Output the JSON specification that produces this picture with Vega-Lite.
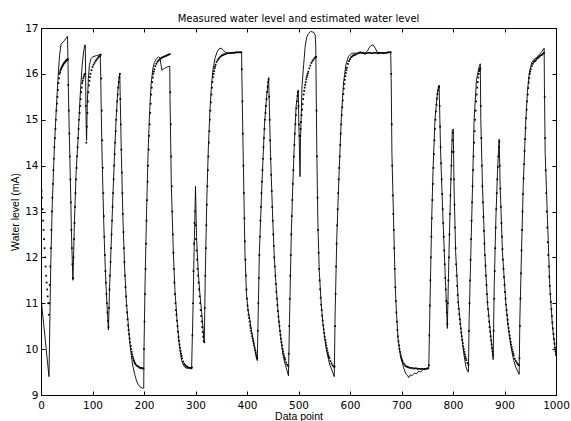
{
"$schema": "https://vega.github.io/schema/vega-lite/v6.json",
"autosize": {"type": "none"},
"padding": {"left": 41, "right": 15, "top": 28, "bottom": 26},
"width": 515,
"height": 367,
"background": "white",
"title": {"text": "Measured water level and estimated water level", "font": "DejaVu Sans", "fontSize": 10, "fontWeight": "normal", "color": "black", "baseline": "alphabetic", "offset": -9, "anchor": "middle"},
"config": {
  "view": {"stroke": null},
  "axis": {"grid": false, "domainColor": "black", "domainWidth": 1, "tickColor": "black", "tickWidth": 1, "labelColor": "black", "titleColor": "black", "labelFont": "DejaVu Sans", "labelFontSize": 10.5, "titleFont": "Liberation Sans", "titleFontSize": 10.5, "titleFontWeight": "normal"}
},
"datasets": {
"measured": [
{"x":0,"y":11.2},{"x":2,"y":10.9},{"x":15.5,"y":9.4},{"x":19,"y":11.9},{"x":22,"y":13.2},{"x":26,"y":14.4},{"x":30,"y":15.3},{"x":33,"y":15.9},{"x":36,"y":16.4},{"x":39,"y":16.65},{"x":45,"y":16.72},{"x":50,"y":16.8},{"x":51.5,"y":16.82},{"x":52.5,"y":16.2},{"x":53,"y":15.76},{"x":54,"y":15.2},{"x":55,"y":14.7},{"x":56,"y":14.2},{"x":57,"y":13.7},{"x":58,"y":13.2},{"x":59,"y":12.6},{"x":60,"y":12.2},{"x":61,"y":11.85},{"x":62,"y":11.5},
{"x":65,"y":12.8},{"x":68,"y":13.8},{"x":72,"y":14.6},{"x":75,"y":15.3},{"x":77,"y":15.7},{"x":80,"y":16.2},{"x":83,"y":16.5},{"x":85,"y":16.63},{"x":86,"y":16.63},{"x":87.5,"y":15.0},{"x":88.5,"y":14.55},{"x":90,"y":15.4},{"x":92,"y":15.9},{"x":94,"y":16.2},{"x":97,"y":16.33},{"x":100,"y":16.37},{"x":108,"y":16.4},{"x":115,"y":16.42},
{"x":116,"y":15.95},{"x":117,"y":15.2},{"x":118,"y":14.5},{"x":120,"y":13.55},{"x":122,"y":12.7},{"x":124,"y":12.0},{"x":126,"y":11.45},{"x":128,"y":11.0},{"x":130,"y":10.6},{"x":131,"y":10.42},{"x":133,"y":11.3},{"x":137,"y":12.5},{"x":140,"y":13.45},{"x":143,"y":14.3},{"x":146,"y":15.05},{"x":149,"y":15.6},{"x":151,"y":15.85},{"x":153,"y":16.02},
{"x":154,"y":15.4},{"x":156,"y":14.27},{"x":159,"y":12.9},{"x":162.5,"y":11.73},{"x":166,"y":11.0},{"x":169,"y":10.6},{"x":172,"y":10.2},{"x":175,"y":9.9},{"x":178,"y":9.65},{"x":182,"y":9.45},{"x":185,"y":9.33},{"x":188,"y":9.24},{"x":192,"y":9.18},{"x":197,"y":9.15},{"x":199.5,"y":9.15},
{"x":200,"y":10.0},{"x":202,"y":11.4},{"x":205,"y":13.0},{"x":208,"y":14.3},{"x":211,"y":15.2},{"x":214,"y":15.8},{"x":217,"y":16.1},{"x":220,"y":16.25},{"x":224,"y":16.33},{"x":228,"y":16.37},{"x":231,"y":16.35},{"x":233,"y":16.2},{"x":235,"y":16.08},{"x":240,"y":16.12},{"x":245,"y":16.15},{"x":250,"y":16.17},
{"x":250.5,"y":15.5},{"x":253,"y":13.6},{"x":257,"y":12.1},{"x":260,"y":11.3},{"x":264,"y":10.65},{"x":268,"y":10.15},{"x":273,"y":9.75},{"x":278,"y":9.62},{"x":283,"y":9.58},{"x":288,"y":9.6},{"x":292.5,"y":9.6},
{"x":295,"y":10.8},{"x":297,"y":12.0},{"x":299,"y":13.0},{"x":300,"y":13.55},{"x":302,"y":12.45},{"x":305,"y":11.75},{"x":308.5,"y":11.2},{"x":312,"y":10.8},{"x":315,"y":10.4},{"x":317,"y":10.15},
{"x":319,"y":11.6},{"x":322,"y":13.3},{"x":325,"y":14.4},{"x":328,"y":15.2},{"x":331,"y":15.75},{"x":334,"y":16.1},{"x":338,"y":16.35},{"x":342,"y":16.48},{"x":346,"y":16.55},{"x":350,"y":16.56},{"x":354,"y":16.52},{"x":358,"y":16.47},{"x":362,"y":16.45},{"x":375,"y":16.46},{"x":389.5,"y":16.47},
{"x":390,"y":16.0},{"x":392,"y":14.6},{"x":393.7,"y":13.54},{"x":396,"y":12.1},{"x":399,"y":11.2},{"x":402,"y":10.85},{"x":405.5,"y":10.64},{"x":409,"y":10.38},{"x":412,"y":10.2},{"x":415,"y":10.0},{"x":418.5,"y":9.8},{"x":420,"y":9.75},
{"x":424,"y":12.1},{"x":429,"y":13.6},{"x":434,"y":14.9},{"x":438,"y":15.5},{"x":442,"y":15.92},{"x":445.6,"y":14.27},{"x":450,"y":12.82},{"x":453,"y":12.0},{"x":456.6,"y":11.36},{"x":460,"y":10.85},{"x":463,"y":10.5},{"x":466,"y":10.2},{"x":469.5,"y":9.9},{"x":473,"y":9.72},{"x":476,"y":9.6},{"x":480.5,"y":9.42},
{"x":482.5,"y":10.6},{"x":486,"y":12.5},{"x":489,"y":13.6},{"x":492,"y":14.5},{"x":495.4,"y":15.3},{"x":499.5,"y":15.65},{"x":500.5,"y":15.0},{"x":503,"y":13.76},{"x":504,"y":14.6},{"x":506.8,"y":15.72},{"x":510,"y":16.2},{"x":513,"y":16.6},{"x":516,"y":16.8},{"x":519.4,"y":16.88},{"x":523,"y":16.92},{"x":526,"y":16.92},{"x":530,"y":16.9},{"x":532.4,"y":16.85},{"x":533.5,"y":16.6},
{"x":535.6,"y":14.27},{"x":537.5,"y":12.82},{"x":540.2,"y":11.73},{"x":544,"y":11.0},{"x":547,"y":10.6},{"x":550.5,"y":10.27},{"x":554,"y":10.0},{"x":558.3,"y":9.77},{"x":561,"y":9.65},{"x":564.7,"y":9.55},{"x":569.5,"y":9.4},
{"x":571,"y":10.7},{"x":574.4,"y":12.45},{"x":579,"y":13.9},{"x":583,"y":15.0},{"x":587.4,"y":15.8},{"x":592,"y":16.2},{"x":597,"y":16.38},{"x":603,"y":16.45},{"x":615,"y":16.45},{"x":630,"y":16.46},{"x":634,"y":16.5},{"x":638,"y":16.58},{"x":641,"y":16.62},{"x":645,"y":16.63},{"x":649,"y":16.56},{"x":653,"y":16.47},{"x":660,"y":16.46},{"x":670,"y":16.46},{"x":679,"y":16.48},
{"x":680,"y":15.9},{"x":681.4,"y":14.27},{"x":684.6,"y":12.82},{"x":687.9,"y":11.36},{"x":690,"y":10.85},{"x":693,"y":10.27},{"x":696,"y":10.0},{"x":699.5,"y":9.8},{"x":704,"y":9.6},{"x":708,"y":9.47},{"x":712,"y":9.42},{"x":714,"y":9.38},{"x":717,"y":9.44},{"x":720,"y":9.42},{"x":723,"y":9.45},{"x":726,"y":9.48},{"x":729,"y":9.46},{"x":733,"y":9.52},{"x":737,"y":9.5},{"x":741,"y":9.55},{"x":745,"y":9.56},{"x":750,"y":9.57},{"x":753,"y":9.6},
{"x":754.7,"y":10.64},{"x":756.7,"y":11.73},{"x":758.6,"y":12.82},{"x":761.2,"y":13.9},{"x":765,"y":15.0},{"x":769.6,"y":15.58},{"x":773,"y":15.75},{"x":776,"y":14.27},{"x":780.6,"y":12.82},{"x":785.8,"y":11.36},{"x":789,"y":10.45},
{"x":792.2,"y":12.09},{"x":795.5,"y":13.54},{"x":798.7,"y":14.78},{"x":800.5,"y":14.8},{"x":802,"y":13.54},{"x":805.2,"y":12.1},{"x":810.4,"y":11.0},{"x":817,"y":10.27},{"x":821,"y":9.9},{"x":825,"y":9.62},{"x":828,"y":9.52},{"x":830,"y":9.5},
{"x":831.3,"y":10.64},{"x":834.6,"y":12.09},{"x":837.9,"y":13.54},{"x":841,"y":15.0},{"x":845.6,"y":15.87},{"x":850.8,"y":16.16},{"x":853,"y":16.22},{"x":854,"y":15.0},{"x":857.3,"y":13.54},{"x":861.8,"y":12.1},{"x":867,"y":11.0},{"x":873.5,"y":10.27},{"x":878,"y":9.77},
{"x":880,"y":11.36},{"x":883.2,"y":12.82},{"x":886.5,"y":13.9},{"x":889.7,"y":14.58},{"x":891.6,"y":13.54},{"x":896.1,"y":12.1},{"x":902.6,"y":11.0},{"x":907,"y":10.5},{"x":912.4,"y":10.06},{"x":918,"y":9.75},{"x":922,"y":9.6},{"x":928.5,"y":9.45},
{"x":929.8,"y":10.64},{"x":933,"y":12.1},{"x":936.3,"y":13.54},{"x":941.4,"y":15.0},{"x":944.5,"y":15.6},{"x":947.9,"y":16.0},{"x":953,"y":16.25},{"x":957.6,"y":16.32},{"x":962,"y":16.35},{"x":967.4,"y":16.42},{"x":972,"y":16.48},{"x":977,"y":16.56},
{"x":977.5,"y":15.72},{"x":979,"y":14.27},{"x":983.5,"y":12.82},{"x":988,"y":11.36},{"x":993.2,"y":10.49},{"x":1000,"y":9.85}
],
"estimated": [
{"x":0,"y":13.6},{"x":1,"y":13.45},{"x":2,"y":13.3},{"x":3,"y":13.05},{"x":4,"y":12.8},{"x":5,"y":12.6},{"x":6,"y":12.4},{"x":7,"y":12.2},{"x":8,"y":12.0},{"x":9,"y":11.8},{"x":10,"y":11.6},{"x":11,"y":11.45},{"x":12,"y":11.3},{"x":13,"y":11.15},{"x":14,"y":11.0},{"x":15,"y":10.75},{"x":16,"y":11.0},{"x":17,"y":11.4},{"x":18,"y":11.8},{"x":19,"y":12.2},{"x":20,"y":12.6},{"x":21,"y":13.0},{"x":22,"y":13.3},{"x":23,"y":13.6},{"x":24,"y":13.9},{"x":25,"y":14.15},{"x":26,"y":14.4},{"x":27,"y":14.6},{"x":28,"y":14.8},{"x":29,"y":15.0},{"x":30,"y":15.2},{"x":31,"y":15.35},{"x":32,"y":15.5},{"x":33,"y":15.65},{"x":34,"y":15.8},{"x":35,"y":15.9},{"x":36,"y":16.0},{"x":37,"y":16.04},{"x":38,"y":16.08},{"x":39,"y":16.11},{"x":40,"y":16.14},{"x":41,"y":16.16},{"x":42,"y":16.18},{"x":43,"y":16.2},{"x":44,"y":16.22},{"x":45,"y":16.24},{"x":46,"y":16.25},{"x":47,"y":16.26},{"x":48,"y":16.28},{"x":49,"y":16.29},{"x":50,"y":16.3},{"x":51,"y":16.31},{"x":52,"y":16.32},
{"x":53,"y":15.76},{"x":54,"y":15.2},{"x":55,"y":14.7},{"x":56,"y":14.2},{"x":57,"y":13.7},{"x":58,"y":13.2},{"x":59,"y":12.6},{"x":60,"y":12.2},{"x":61,"y":11.85},{"x":62,"y":11.55},
{"x":63,"y":12.0},{"x":64,"y":12.4},{"x":65,"y":12.75},{"x":66,"y":13.1},{"x":67,"y":13.4},{"x":68,"y":13.7},{"x":69,"y":13.95},{"x":70,"y":14.2},{"x":71,"y":14.4},{"x":72,"y":14.6},{"x":73,"y":14.8},{"x":74,"y":15.0},{"x":75,"y":15.15},{"x":76,"y":15.3},{"x":77,"y":15.45},{"x":78,"y":15.6},{"x":79,"y":15.7},{"x":80,"y":15.8},{"x":81,"y":15.85},{"x":82,"y":15.9},{"x":83,"y":15.94},{"x":84,"y":15.98},{"x":85,"y":16.0},{"x":86,"y":16.0},{"x":87,"y":15.3},{"x":88,"y":14.5},
{"x":89,"y":14.85},{"x":90,"y":15.15},{"x":91,"y":15.4},{"x":92,"y":15.6},{"x":93,"y":15.75},{"x":94,"y":15.85},{"x":95,"y":15.93},{"x":96,"y":16.0},{"x":98,"y":16.08},{"x":100,"y":16.15},{"x":102,"y":16.2},{"x":104,"y":16.24},{"x":106,"y":16.28},{"x":108,"y":16.31},{"x":110,"y":16.34},{"x":112,"y":16.37},{"x":114,"y":16.39},{"x":116,"y":16.42},
{"x":117,"y":15.9},{"x":118,"y":15.2},{"x":119,"y":14.55},{"x":120,"y":13.95},{"x":121,"y":13.4},{"x":122,"y":12.9},{"x":123,"y":12.45},{"x":124,"y":12.05},{"x":125,"y":11.7},{"x":126,"y":11.45},{"x":127,"y":11.2},{"x":128,"y":11.0},{"x":129,"y":10.8},{"x":130,"y":10.62},{"x":131,"y":10.48},
{"x":132,"y":10.9},{"x":133,"y":11.3},{"x":134,"y":11.6},{"x":135,"y":11.9},{"x":136,"y":12.2},{"x":137,"y":12.5},{"x":138,"y":12.8},{"x":139,"y":13.1},{"x":140,"y":13.4},{"x":141,"y":13.7},{"x":142,"y":14.0},{"x":143,"y":14.25},{"x":144,"y":14.5},{"x":145,"y":14.75},{"x":146,"y":15.0},{"x":147,"y":15.2},{"x":148,"y":15.4},{"x":149,"y":15.55},{"x":150,"y":15.7},{"x":151,"y":15.82},{"x":152,"y":15.92},{"x":153,"y":16.0},
{"x":154,"y":15.45},{"x":155,"y":14.9},{"x":156,"y":14.35},{"x":157,"y":13.85},{"x":158,"y":13.4},{"x":159,"y":12.95},{"x":160,"y":12.55},{"x":161,"y":12.2},{"x":162,"y":11.9},{"x":163,"y":11.6},{"x":164,"y":11.35},{"x":165,"y":11.15},{"x":166,"y":10.95},{"x":167,"y":10.8},{"x":168,"y":10.65},{"x":169,"y":10.52},{"x":170,"y":10.42},{"x":171,"y":10.32},{"x":172,"y":10.23},{"x":173,"y":10.15},{"x":174,"y":10.07},{"x":175,"y":10.0},{"x":176,"y":9.94},{"x":177,"y":9.89},{"x":178,"y":9.84},{"x":179,"y":9.8},{"x":180,"y":9.76},{"x":181,"y":9.73},{"x":182,"y":9.7},{"x":183,"y":9.68},{"x":185,"y":9.65},{"x":187,"y":9.63},{"x":189,"y":9.62},{"x":191,"y":9.6},{"x":193,"y":9.59},{"x":195,"y":9.59},{"x":197,"y":9.58},{"x":199,"y":9.58},
{"x":200,"y":10.0},{"x":201,"y":10.6},{"x":202,"y":11.2},{"x":203,"y":11.75},{"x":204,"y":12.3},{"x":205,"y":12.8},{"x":206,"y":13.25},{"x":207,"y":13.65},{"x":208,"y":14.0},{"x":209,"y":14.35},{"x":210,"y":14.65},{"x":211,"y":14.9},{"x":212,"y":15.15},{"x":213,"y":15.35},{"x":214,"y":15.55},{"x":215,"y":15.7},{"x":216,"y":15.82},{"x":217,"y":15.92},{"x":218,"y":16.0},{"x":219,"y":16.05},{"x":220,"y":16.1},{"x":222,"y":16.17},{"x":224,"y":16.22},{"x":226,"y":16.26},{"x":228,"y":16.29},{"x":230,"y":16.31},{"x":232,"y":16.33},{"x":234,"y":16.35},{"x":236,"y":16.36},{"x":238,"y":16.37},{"x":240,"y":16.38},{"x":242,"y":16.39},{"x":244,"y":16.4},{"x":246,"y":16.41},{"x":248,"y":16.42},{"x":250,"y":16.43},
{"x":251,"y":15.6},{"x":252,"y":14.9},{"x":253,"y":14.2},{"x":254,"y":13.55},{"x":255,"y":13.0},{"x":256,"y":12.5},{"x":257,"y":12.1},{"x":258,"y":11.75},{"x":259,"y":11.45},{"x":260,"y":11.2},{"x":261,"y":11.0},{"x":262,"y":10.85},{"x":263,"y":10.75},{"x":264,"y":10.62},{"x":265,"y":10.5},{"x":266,"y":10.38},{"x":267,"y":10.27},{"x":268,"y":10.18},{"x":269,"y":10.1},{"x":270,"y":10.03},{"x":271,"y":9.96},{"x":272,"y":9.9},{"x":273,"y":9.85},{"x":274,"y":9.8},{"x":276,"y":9.73},{"x":278,"y":9.68},{"x":280,"y":9.65},{"x":282,"y":9.63},{"x":284,"y":9.61},{"x":286,"y":9.6},{"x":288,"y":9.59},{"x":290,"y":9.59},{"x":292,"y":9.58},
{"x":293,"y":9.6},{"x":294,"y":10.3},{"x":295,"y":11.0},{"x":296,"y":11.7},{"x":297,"y":12.3},{"x":298,"y":12.75},{"x":299,"y":13.0},{"x":300,"y":12.7},{"x":301,"y":12.4},{"x":302,"y":12.15},{"x":303,"y":11.95},{"x":304,"y":11.75},{"x":305,"y":11.6},{"x":306,"y":11.45},{"x":307,"y":11.3},{"x":308,"y":11.15},{"x":309,"y":11.0},{"x":310,"y":10.85},{"x":311,"y":10.72},{"x":312,"y":10.6},{"x":313,"y":10.48},{"x":314,"y":10.37},{"x":315,"y":10.27},{"x":316,"y":10.18},{"x":317,"y":10.15},
{"x":318,"y":10.9},{"x":319,"y":11.6},{"x":320,"y":12.2},{"x":321,"y":12.7},{"x":322,"y":13.15},{"x":323,"y":13.55},{"x":324,"y":13.9},{"x":325,"y":14.2},{"x":326,"y":14.5},{"x":327,"y":14.75},{"x":328,"y":15.0},{"x":329,"y":15.2},{"x":330,"y":15.38},{"x":331,"y":15.55},{"x":332,"y":15.7},{"x":333,"y":15.82},{"x":334,"y":15.93},{"x":335,"y":16.0},{"x":336,"y":16.06},{"x":337,"y":16.12},{"x":338,"y":16.16},{"x":339,"y":16.2},{"x":341,"y":16.26},{"x":343,"y":16.3},{"x":345,"y":16.33},{"x":347,"y":16.36},{"x":349,"y":16.38},{"x":351,"y":16.4},{"x":353,"y":16.41},{"x":355,"y":16.42},{"x":357,"y":16.43},{"x":360,"y":16.44},{"x":363,"y":16.45},{"x":366,"y":16.45},{"x":369,"y":16.46},{"x":372,"y":16.46},{"x":375,"y":16.46},{"x":378,"y":16.47},{"x":381,"y":16.47},{"x":384,"y":16.47},{"x":387,"y":16.47},{"x":389,"y":16.47},
{"x":390,"y":16.1},{"x":391,"y":15.4},{"x":392,"y":14.7},{"x":393,"y":14.0},{"x":394,"y":13.4},{"x":395,"y":12.85},{"x":396,"y":12.35},{"x":397,"y":11.95},{"x":398,"y":11.6},{"x":399,"y":11.3},{"x":400,"y":11.1},{"x":401,"y":10.95},{"x":402,"y":10.85},{"x":403,"y":10.75},{"x":404,"y":10.68},{"x":405,"y":10.6},{"x":406,"y":10.52},{"x":407,"y":10.46},{"x":408,"y":10.4},{"x":409,"y":10.34},{"x":410,"y":10.28},{"x":411,"y":10.23},{"x":412,"y":10.18},{"x":413,"y":10.13},{"x":414,"y":10.08},{"x":415,"y":10.03},{"x":416,"y":9.98},{"x":417,"y":9.93},{"x":418,"y":9.88},{"x":419,"y":9.83},{"x":420,"y":9.8},
{"x":421,"y":10.4},{"x":422,"y":11.0},{"x":423,"y":11.55},{"x":424,"y":12.05},{"x":425,"y":12.45},{"x":426,"y":12.8},{"x":427,"y":13.1},{"x":428,"y":13.4},{"x":429,"y":13.65},{"x":430,"y":13.9},{"x":431,"y":14.15},{"x":432,"y":14.4},{"x":433,"y":14.6},{"x":434,"y":14.8},{"x":435,"y":15.0},{"x":436,"y":15.15},{"x":437,"y":15.3},{"x":438,"y":15.45},{"x":439,"y":15.6},{"x":440,"y":15.72},{"x":441,"y":15.82},{"x":442,"y":15.88},
{"x":443,"y":15.5},{"x":444,"y":15.0},{"x":445,"y":14.55},{"x":446,"y":14.15},{"x":447,"y":13.8},{"x":448,"y":13.45},{"x":449,"y":13.1},{"x":450,"y":12.8},{"x":451,"y":12.5},{"x":452,"y":12.25},{"x":453,"y":12.0},{"x":454,"y":11.8},{"x":455,"y":11.6},{"x":456,"y":11.42},{"x":457,"y":11.25},{"x":458,"y":11.1},{"x":459,"y":10.96},{"x":460,"y":10.83},{"x":461,"y":10.71},{"x":462,"y":10.6},{"x":463,"y":10.5},{"x":464,"y":10.4},{"x":465,"y":10.31},{"x":466,"y":10.23},{"x":467,"y":10.15},{"x":468,"y":10.08},{"x":469,"y":10.01},{"x":470,"y":9.95},{"x":471,"y":9.9},{"x":472,"y":9.85},{"x":473,"y":9.81},{"x":474,"y":9.77},{"x":476,"y":9.71},{"x":478,"y":9.66},{"x":480,"y":9.63},
{"x":481,"y":9.9},{"x":482,"y":10.5},{"x":483,"y":11.1},{"x":484,"y":11.6},{"x":485,"y":12.05},{"x":486,"y":12.5},{"x":487,"y":12.9},{"x":488,"y":13.25},{"x":489,"y":13.6},{"x":490,"y":13.9},{"x":491,"y":14.2},{"x":492,"y":14.45},{"x":493,"y":14.7},{"x":494,"y":14.9},{"x":495,"y":15.1},{"x":496,"y":15.25},{"x":497,"y":15.4},{"x":498,"y":15.52},{"x":499,"y":15.6},{"x":500,"y":15.3},{"x":501,"y":14.9},{"x":502,"y":14.65},{"x":503,"y":14.65},{"x":504,"y":14.8},{"x":505,"y":14.95},{"x":506,"y":15.1},{"x":507,"y":15.22},{"x":508,"y":15.34},{"x":509,"y":15.45},{"x":510,"y":15.55},{"x":511,"y":15.63},{"x":512,"y":15.7},{"x":513,"y":15.76},{"x":514,"y":15.82},{"x":515,"y":15.88},{"x":516,"y":15.93},{"x":517,"y":15.97},{"x":518,"y":16.01},{"x":519,"y":16.05},{"x":521,"y":16.12},{"x":523,"y":16.18},{"x":525,"y":16.24},{"x":527,"y":16.28},{"x":529,"y":16.31},{"x":531,"y":16.34},{"x":533,"y":16.36},{"x":534,"y":16.37},
{"x":535,"y":15.2},{"x":536,"y":14.2},{"x":537,"y":13.3},{"x":538,"y":12.6},{"x":539,"y":12.1},{"x":540,"y":11.75},{"x":541,"y":11.5},{"x":542,"y":11.3},{"x":543,"y":11.12},{"x":544,"y":10.97},{"x":545,"y":10.85},{"x":546,"y":10.73},{"x":547,"y":10.62},{"x":548,"y":10.52},{"x":549,"y":10.43},{"x":550,"y":10.35},{"x":551,"y":10.27},{"x":552,"y":10.2},{"x":553,"y":10.14},{"x":554,"y":10.08},{"x":555,"y":10.02},{"x":556,"y":9.97},{"x":557,"y":9.92},{"x":558,"y":9.87},{"x":559,"y":9.83},{"x":560,"y":9.8},{"x":562,"y":9.74},{"x":564,"y":9.69},{"x":566,"y":9.65},{"x":568,"y":9.62},{"x":570,"y":9.62},
{"x":571,"y":10.5},{"x":572,"y":11.2},{"x":573,"y":11.8},{"x":574,"y":12.3},{"x":575,"y":12.7},{"x":576,"y":13.05},{"x":577,"y":13.4},{"x":578,"y":13.7},{"x":579,"y":13.95},{"x":580,"y":14.2},{"x":581,"y":14.45},{"x":582,"y":14.7},{"x":583,"y":14.9},{"x":584,"y":15.1},{"x":585,"y":15.27},{"x":586,"y":15.42},{"x":587,"y":15.56},{"x":588,"y":15.68},{"x":589,"y":15.78},{"x":590,"y":15.87},{"x":591,"y":15.95},{"x":592,"y":16.02},{"x":593,"y":16.08},{"x":594,"y":16.13},{"x":596,"y":16.22},{"x":598,"y":16.28},{"x":600,"y":16.32},{"x":602,"y":16.36},{"x":604,"y":16.38},{"x":606,"y":16.4},{"x":608,"y":16.41},{"x":611,"y":16.42},{"x":614,"y":16.44},{"x":617,"y":16.46},{"x":620,"y":16.47},{"x":623,"y":16.46},{"x":626,"y":16.45},{"x":629,"y":16.44},{"x":632,"y":16.45},{"x":635,"y":16.46},{"x":638,"y":16.46},{"x":641,"y":16.45},{"x":644,"y":16.45},{"x":647,"y":16.46},{"x":650,"y":16.46},{"x":653,"y":16.45},{"x":656,"y":16.45},{"x":659,"y":16.46},{"x":662,"y":16.46},{"x":665,"y":16.45},{"x":668,"y":16.46},{"x":671,"y":16.46},{"x":674,"y":16.47},{"x":677,"y":16.47},{"x":679,"y":16.47},
{"x":680,"y":16.0},{"x":681,"y":14.9},{"x":682,"y":14.0},{"x":683,"y":13.35},{"x":684,"y":12.95},{"x":685,"y":12.6},{"x":686,"y":12.2},{"x":687,"y":11.75},{"x":688,"y":11.35},{"x":689,"y":11.05},{"x":690,"y":10.8},{"x":691,"y":10.6},{"x":692,"y":10.42},{"x":693,"y":10.28},{"x":694,"y":10.17},{"x":695,"y":10.08},{"x":696,"y":10.0},{"x":697,"y":9.94},{"x":698,"y":9.88},{"x":699,"y":9.83},{"x":700,"y":9.79},{"x":701,"y":9.76},{"x":702,"y":9.73},{"x":704,"y":9.69},{"x":706,"y":9.66},{"x":708,"y":9.63},{"x":710,"y":9.62},{"x":712,"y":9.61},{"x":714,"y":9.6},{"x":717,"y":9.59},{"x":720,"y":9.59},{"x":723,"y":9.58},{"x":726,"y":9.58},{"x":729,"y":9.58},{"x":732,"y":9.57},{"x":735,"y":9.57},{"x":738,"y":9.57},{"x":741,"y":9.57},{"x":744,"y":9.57},{"x":747,"y":9.57},{"x":750,"y":9.58},{"x":752,"y":9.58},
{"x":753,"y":9.65},{"x":754,"y":10.3},{"x":755,"y":10.95},{"x":756,"y":11.5},{"x":757,"y":12.0},{"x":758,"y":12.45},{"x":759,"y":12.85},{"x":760,"y":13.25},{"x":761,"y":13.6},{"x":762,"y":13.95},{"x":763,"y":14.25},{"x":764,"y":14.55},{"x":765,"y":14.8},{"x":766,"y":15.0},{"x":767,"y":15.18},{"x":768,"y":15.33},{"x":769,"y":15.46},{"x":770,"y":15.56},{"x":771,"y":15.64},{"x":772,"y":15.7},{"x":773,"y":15.73},
{"x":774,"y":15.3},{"x":775,"y":14.85},{"x":776,"y":14.4},{"x":777,"y":14.05},{"x":778,"y":13.7},{"x":779,"y":13.38},{"x":780,"y":13.05},{"x":781,"y":12.75},{"x":782,"y":12.45},{"x":783,"y":12.15},{"x":784,"y":11.85},{"x":785,"y":11.55},{"x":786,"y":11.3},{"x":787,"y":11.05},{"x":788,"y":10.8},{"x":789,"y":10.55},
{"x":790,"y":11.0},{"x":791,"y":11.5},{"x":792,"y":12.0},{"x":793,"y":12.5},{"x":794,"y":12.95},{"x":795,"y":13.35},{"x":796,"y":13.7},{"x":797,"y":14.0},{"x":798,"y":14.3},{"x":799,"y":14.55},{"x":800,"y":14.72},
{"x":801,"y":14.3},{"x":802,"y":13.7},{"x":803,"y":13.15},{"x":804,"y":12.65},{"x":805,"y":12.2},{"x":806,"y":11.85},{"x":807,"y":11.6},{"x":808,"y":11.38},{"x":809,"y":11.18},{"x":810,"y":11.02},{"x":811,"y":10.88},{"x":812,"y":10.76},{"x":813,"y":10.65},{"x":814,"y":10.55},{"x":815,"y":10.45},{"x":816,"y":10.36},{"x":817,"y":10.28},{"x":818,"y":10.2},{"x":819,"y":10.13},{"x":820,"y":10.06},{"x":821,"y":10.0},{"x":822,"y":9.94},{"x":823,"y":9.89},{"x":824,"y":9.84},{"x":825,"y":9.8},{"x":826,"y":9.76},{"x":828,"y":9.7},{"x":830,"y":9.66},
{"x":831,"y":10.4},{"x":832,"y":11.0},{"x":833,"y":11.5},{"x":834,"y":11.95},{"x":835,"y":12.4},{"x":836,"y":12.8},{"x":837,"y":13.2},{"x":838,"y":13.55},{"x":839,"y":13.9},{"x":840,"y":14.2},{"x":841,"y":14.5},{"x":842,"y":14.75},{"x":843,"y":15.0},{"x":844,"y":15.2},{"x":845,"y":15.4},{"x":846,"y":15.55},{"x":847,"y":15.7},{"x":848,"y":15.82},{"x":849,"y":15.92},{"x":850,"y":16.0},{"x":851,"y":16.06},{"x":852,"y":16.1},{"x":853,"y":16.12},
{"x":854,"y":15.3},{"x":855,"y":14.6},{"x":856,"y":14.0},{"x":857,"y":13.55},{"x":858,"y":13.2},{"x":859,"y":12.88},{"x":860,"y":12.58},{"x":861,"y":12.3},{"x":862,"y":12.05},{"x":863,"y":11.82},{"x":864,"y":11.6},{"x":865,"y":11.4},{"x":866,"y":11.2},{"x":867,"y":11.02},{"x":868,"y":10.87},{"x":869,"y":10.73},{"x":870,"y":10.6},{"x":871,"y":10.48},{"x":872,"y":10.38},{"x":873,"y":10.28},{"x":874,"y":10.19},{"x":875,"y":10.1},{"x":876,"y":10.02},{"x":877,"y":9.95},{"x":878,"y":9.88},
{"x":879,"y":10.4},{"x":880,"y":11.1},{"x":881,"y":11.7},{"x":882,"y":12.2},{"x":883,"y":12.65},{"x":884,"y":13.05},{"x":885,"y":13.4},{"x":886,"y":13.7},{"x":887,"y":13.97},{"x":888,"y":14.2},{"x":889,"y":14.4},{"x":890,"y":14.52},
{"x":891,"y":14.0},{"x":892,"y":13.5},{"x":893,"y":13.1},{"x":894,"y":12.75},{"x":895,"y":12.45},{"x":896,"y":12.18},{"x":897,"y":11.95},{"x":898,"y":11.75},{"x":899,"y":11.57},{"x":900,"y":11.4},{"x":901,"y":11.25},{"x":902,"y":11.1},{"x":903,"y":10.97},{"x":904,"y":10.85},{"x":905,"y":10.74},{"x":906,"y":10.64},{"x":907,"y":10.55},{"x":908,"y":10.46},{"x":909,"y":10.38},{"x":910,"y":10.3},{"x":911,"y":10.23},{"x":912,"y":10.16},{"x":913,"y":10.1},{"x":914,"y":10.04},{"x":915,"y":9.99},{"x":916,"y":9.94},{"x":917,"y":9.9},{"x":918,"y":9.86},{"x":920,"y":9.79},{"x":922,"y":9.74},{"x":924,"y":9.7},{"x":926,"y":9.67},{"x":928,"y":9.65},
{"x":929,"y":9.8},{"x":930,"y":10.5},{"x":931,"y":11.1},{"x":932,"y":11.65},{"x":933,"y":12.15},{"x":934,"y":12.6},{"x":935,"y":13.0},{"x":936,"y":13.38},{"x":937,"y":13.72},{"x":938,"y":14.03},{"x":939,"y":14.32},{"x":940,"y":14.58},{"x":941,"y":14.82},{"x":942,"y":15.03},{"x":943,"y":15.22},{"x":944,"y":15.4},{"x":945,"y":15.55},{"x":946,"y":15.69},{"x":947,"y":15.81},{"x":948,"y":15.91},{"x":949,"y":16.0},{"x":950,"y":16.05},{"x":951,"y":16.1},{"x":953,"y":16.17},{"x":955,"y":16.22},{"x":957,"y":16.26},{"x":959,"y":16.28},{"x":961,"y":16.3},{"x":963,"y":16.33},{"x":965,"y":16.35},{"x":967,"y":16.37},{"x":969,"y":16.39},{"x":971,"y":16.41},{"x":973,"y":16.42},{"x":975,"y":16.44},{"x":977,"y":16.46},
{"x":978,"y":15.5},{"x":979,"y":14.6},{"x":980,"y":13.9},{"x":981,"y":13.4},{"x":982,"y":13.0},{"x":983,"y":12.65},{"x":984,"y":12.33},{"x":985,"y":12.05},{"x":986,"y":11.8},{"x":987,"y":11.58},{"x":988,"y":11.38},{"x":989,"y":11.2},{"x":990,"y":11.03},{"x":991,"y":10.87},{"x":992,"y":10.72},{"x":993,"y":10.58},{"x":994,"y":10.45},{"x":995,"y":10.33},{"x":996,"y":10.22},{"x":997,"y":10.12},{"x":998,"y":10.03},{"x":999,"y":9.95},{"x":1000,"y":9.88}
]
},
"layer": [
  {
    "data": {"name": "measured"},
    "mark": {"type": "line", "color": "black", "strokeWidth": 0.9, "clip": true},
    "encoding": {
      "x": {"field": "x", "type": "quantitative", "scale": {"domain": [0, 1000], "nice": false, "zero": false},
            "axis": {"orient": "bottom", "values": [0,100,200,300,400,500,600,700,800,900,1000], "format": "d", "tickSize": -4, "labelPadding": 9, "title": "Data point", "titlePadding": 1, "labelFlush": false}},
      "y": {"field": "y", "type": "quantitative", "scale": {"domain": [9, 17], "nice": false, "zero": false},
            "axis": {"orient": "left", "values": [9,10,11,12,13,14,15,16,17], "format": "d", "tickSize": -4, "labelPadding": 7, "title": "Water level (mA)", "titlePadding": 4, "labelFlush": false}}
    }
  },
  {
    "data": {"name": "estimated"},
    "mark": {"type": "point", "shape": "square", "filled": true, "color": "black", "size": 3, "opacity": 1, "clip": true},
    "encoding": {
      "x": {"field": "x", "type": "quantitative",
            "axis": {"orient": "top", "values": [0,100,200,300,400,500,600,700,800,900,1000], "tickSize": -4, "labels": false, "title": null}},
      "y": {"field": "y", "type": "quantitative",
            "axis": {"orient": "right", "values": [9,10,11,12,13,14,15,16,17], "tickSize": -4, "labels": false, "title": null}}
    }
  }
],
"resolve": {"axis": {"x": "independent", "y": "independent"}}
}
